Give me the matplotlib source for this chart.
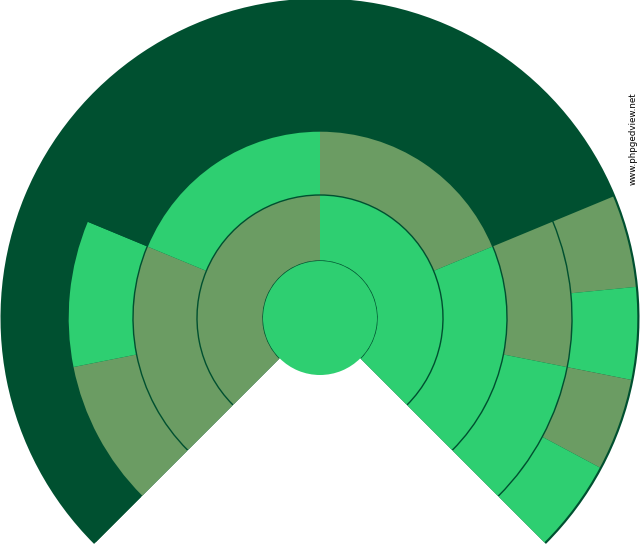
import matplotlib
matplotlib.use("Agg")
import matplotlib.pyplot as plt

# fan chart colours
BRIGHT = "#2ecf71"
OLIVE = "#6b9c63"
DARK = "#005030"
COLORS = {"f": BRIGHT, "m": OLIVE, "x": DARK}

# ring outer radii in pixels, centre disk first
RING_RADII = [57, 123, 187, 252, 318]

# one code per slot, in clockwise order from the lower-left edge
GEN_1 = ["f"]
GEN_2 = ["m", "f"]
GEN_3 = ["m", "f", "m", "f"]
GEN_4 = ["m", "f", "x", "x", "x", "x", "m", "f"]
GEN_5 = ["x"] * 12 + ["m", "f", "m", "f"]

CENTER = (320, 232)
SPAN_START = 225  # degrees, chart runs clockwise over 270 degrees
GAP = 0.7         # half width of the dark rings between generations

fig = plt.figure(figsize=(6.4, 5.5), dpi=100)
ax = fig.add_axes([0, 0, 1, 1])

# dark background sector shows through as thin rings between generations
ax.pie([3, 1], radius=RING_RADII[-1] + 1.5, center=CENTER,
       colors=[DARK, "none"], startangle=SPAN_START, counterclock=False,
       wedgeprops=dict(linewidth=0))

# centre person, full disk
ax.pie([1], radius=RING_RADII[0], center=CENTER,
       colors=[COLORS[GEN_1[0]]], wedgeprops=dict(linewidth=0))

gens = [GEN_2, GEN_3, GEN_4, GEN_5]
for i, gen in enumerate(gens):
    inner = RING_RADII[i] + GAP
    outer = RING_RADII[i + 1] - GAP
    n = len(gen)
    values = [1] * n + [n / 3]
    cols = [COLORS[c] for c in gen] + ["none"]
    ax.pie(values, radius=outer, center=CENTER, colors=cols,
           startangle=SPAN_START, counterclock=False,
           wedgeprops=dict(width=outer - inner, linewidth=0))

ax.set_xlim(0, 640)
ax.set_ylim(0, 550)
ax.set_aspect("equal")
ax.axis("off")

fig.text(633 / 640, (550 - 139) / 550, "www.phpgedview.net",
         rotation=90, ha="center", va="center", fontsize=6.3,
         color="black")

fig.savefig("out.png", dpi=100, facecolor="white")
